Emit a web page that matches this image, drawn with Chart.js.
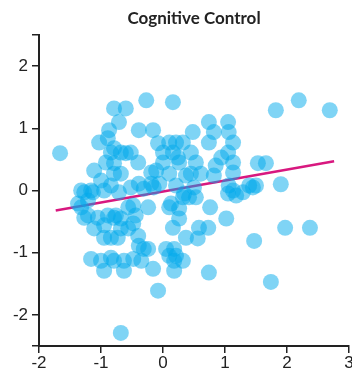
<!DOCTYPE html>
<html>
<head>
<meta charset="utf-8">
<script src="https://cdn.jsdelivr.net/npm/chart.js@4.4.0/dist/chart.umd.min.js"></script>
<style>
  html, body { margin: 0; padding: 0; background: #fff; }
  #wrap { width: 352px; height: 374px; }
</style>
</head>
<body>
<div id="wrap"><canvas id="myChart" width="352" height="374"></canvas></div>
<script>
// Data
const xVals = [
  -1.66, -0.68, -0.08, -0.27, 0.16, 1.82, 2.19, 2.69, 1.53, 1.66,
  1.90, 1.50, 1.39, 0.76, 1.02, 1.97, 2.37, 1.47, 0.74, 1.74,
  0.58, 0.73, 0.37, 0.56, 0.18, 0.32, 0.18, 0.10, 0.26, 0.32,
  0.42, 0.53, 0.26, 0.16, 0.05, 0.18, 0.10, 0.21, 1.05, 1.18,
  1.29, 1.45, -1.32, -1.21, -1.05, -0.89, -0.76, -0.44, -0.56, -1.11,
  -0.95, -0.73, -0.56, -0.40, -0.31, -1.16, -1.00, -0.79, -0.63, -0.48,
  -0.35, -0.95, -0.63, -0.16, -1.27, -1.13, -0.95, -0.71, -0.52, -0.31,
  -0.15, -1.37, -1.21, -1.27, -0.79, -0.68, -0.24, -0.48, -0.95, -0.68,
  -0.48, -0.84, -0.39, -0.84, -0.24, -0.79, -0.60, -0.71, -0.39, -0.16,
  -0.87, -1.03, -0.89, -0.79, -0.84, -0.68, -0.52, -0.40, -0.92, -0.79,
  -1.11, -0.79, -0.68, -0.19, -1.00, -0.84, -1.32, -1.16, -0.39, -0.19,
  -0.08, 0.10, 0.21, -0.60, 0.74, 1.05, 1.06, 0.82, 0.48, 0.74,
  1.13, 0.32, 0.45, 0.16, 0.00, 1.05, 1.13, 0.94, 0.53, 0.26,
  0.00, 0.85, 1.13, 0.61, 0.82, 0.10, 0.37, -0.06, 0.21, 0.50,
  1.13, -0.11, 0.24, 0.45, 1.06, 0.34, 0.13
];
const yVals = [
  0.60, -2.29, -1.61, 1.45, 1.42, 1.29, 1.45, 1.29, 0.44, 0.44,
  0.10, 0.08, 0.08, -0.27, -0.45, -0.60, -0.60, -0.81, -1.32, -1.47,
  -0.60, -0.60, -0.76, -0.77, -1.13, -1.13, -1.29, -0.27, -0.29, -0.11,
  -0.11, -0.11, -0.45, -0.60, -0.94, -0.94, -1.05, -1.05, -0.05, -0.08,
  -0.03, 0.05, -0.27, -0.40, -0.44, -0.40, -0.40, -0.40, -0.27, -0.61,
  -0.76, -0.76, -0.61, -0.73, -0.94, -1.10, -1.13, -1.13, -1.13, -1.10,
  -1.13, -1.29, -1.29, -1.26, -0.03, -0.03, 0.00, -0.03, 0.05, 0.03,
  0.05, -0.21, -0.16, -0.44, -0.44, -0.45, -0.27, -0.24, -0.56, -0.61,
  -0.53, -0.76, -0.89, -1.08, -0.94, 1.32, 1.32, 1.10, 0.97, 0.97,
  0.97, 0.77, 0.84, 0.68, 0.61, 0.61, 0.61, 0.45, 0.45, 0.44,
  0.32, 0.27, 0.27, 0.29, 0.16, 0.08, 0.00, 0.00, 0.11, 0.11,
  0.76, 0.77, 0.77, 0.60, 1.10, 1.10, 0.94, 0.94, 0.94, 0.77,
  0.77, 0.77, 0.61, 0.61, 0.61, 0.61, 0.45, 0.53, 0.45, 0.45,
  0.45, 0.40, 0.29, 0.27, 0.24, 0.27, 0.24, 0.11, 0.08, 0.05,
  0.00, 0.32, 0.53, 0.27, 0.08, -0.05, -0.21
];

// Regression line end points
const fitX = [-1.73, 2.76];
const fitY = [-0.32, 0.47];

const xTicks = [-2, -1, 0, 1, 2, 3];
const yTicks = [-2.5, -2, -1, 0, 1, 2, 2.5];

const points = xVals.map((x, i) => ({ x: x, y: yVals[i] }));
const fitLine = fitX.map((x, i) => ({ x: x, y: fitY[i] }));

const axisColor = '#222';
const tickFont = { family: 'Liberation Sans', size: 17 };

document.addEventListener('DOMContentLoaded', function () {
    const ctx = document.getElementById('myChart').getContext('2d');
    new Chart(ctx, {
        type: 'scatter',
        data: {
            datasets: [{
                data: points,
                backgroundColor: 'rgba(0, 170, 235, 0.5)',
                borderWidth: 0,
                pointRadius: 8,
                order: 1
            }, {
                type: 'line',
                data: fitLine,
                borderColor: '#d8187f',
                borderWidth: 2.5,
                pointRadius: 0,
                fill: false,
                order: 2
            }]
        },
        options: {
            responsive: false,
            animation: false,
            devicePixelRatio: 1,
            layout: { autoPadding: false, padding: { left: 0, right: 3, top: 0, bottom: 0 } },
            plugins: {
                legend: { display: false },
                tooltip: { enabled: false },
                title: {
                    display: true,
                    text: 'Cognitive Control',
                    fullSize: false,
                    color: '#222',
                    font: { family: 'Lato', size: 17, weight: 'bold', lineHeight: 1.2 },
                    padding: { top: 8, bottom: 6.6 }
                }
            },
            scales: {
                x: {
                    type: 'linear',
                    min: -2,
                    max: 3,
                    afterBuildTicks: s => { s.ticks = xTicks.map(v => ({ value: v })); },
                    afterFit: s => { s.height = 28; s.paddingLeft = 0; s.paddingRight = 0; },
                    ticks: { color: axisColor, font: tickFont, padding: 0, maxRotation: 0 },
                    grid: { drawOnChartArea: false, drawTicks: true, tickLength: 7, color: axisColor, lineWidth: 1.5 },
                    border: { display: true, color: axisColor, width: 2 }
                },
                y: {
                    type: 'linear',
                    min: -2.5,
                    max: 2.5,
                    afterBuildTicks: s => { s.ticks = yTicks.map(v => ({ value: v })); },
                    afterFit: s => { s.width = 39; s.paddingTop = 0; s.paddingBottom = 0; },
                    ticks: {
                        color: axisColor,
                        font: tickFont,
                        padding: 4,
                        callback: v => Number.isInteger(v) ? String(v) : ''
                    },
                    grid: { drawOnChartArea: false, drawTicks: true, tickLength: 7, color: axisColor, lineWidth: 1.5 },
                    border: { display: true, color: axisColor, width: 2 }
                }
            }
        }
    });
});
</script>
</body>
</html>
